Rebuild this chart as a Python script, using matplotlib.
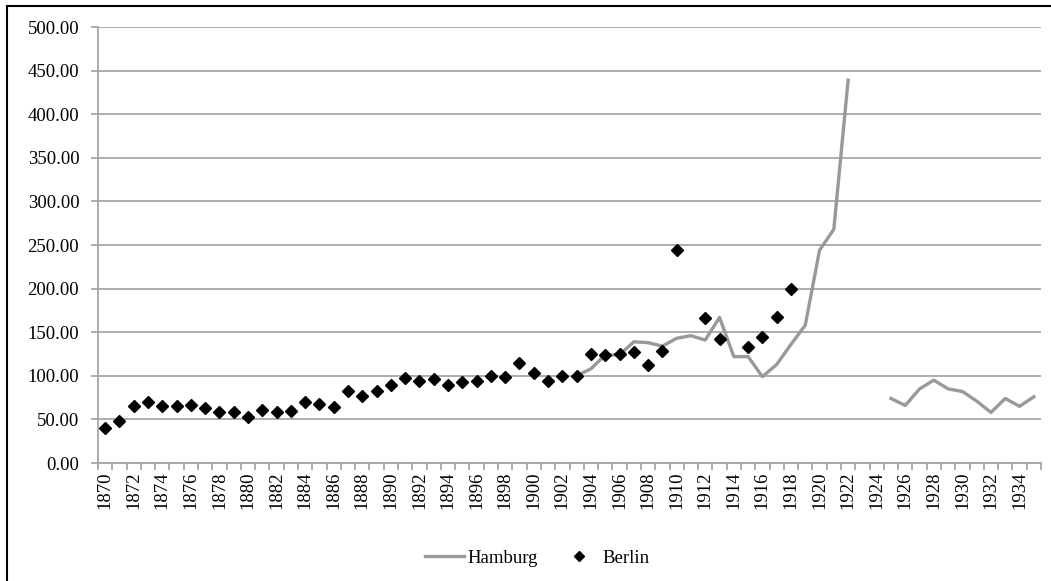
import matplotlib
matplotlib.use("Agg")
import matplotlib.pyplot as plt
import numpy as np
from matplotlib.patches import Rectangle
from matplotlib.lines import Line2D

years = list(range(1870, 1936))

berlin_years = list(range(1870, 1914)) + [1915, 1916, 1917, 1918]
berlin_values = [40, 48, 65, 70.5, 65, 65, 67, 63, 58, 58,
                 53, 61, 59, 60, 70, 68, 64, 83, 77, 82,
                 89, 97, 94, 96, 89, 93, 94, 100, 99, 115,
                 103, 94, 100, 100, 125, 124, 125, 127, 112, 129,
                 244, None, 166, 142,
                 133, 145, 167, 200]

hamburg_years = list(range(1903, 1936))
hamburg_values = [100, 108, 124, 124, 139, 138, 134,
                  143, 146, 141, 167, 122, 122, 99, 113, 136, 158,
                  244, 268, 439, None, None,
                  74, 66, 85, 95, 85, 82, 71, 58, 74, 65, 76]

tick_labels = [str(y) for y in range(1870, 1936, 2)]

bx = [y for y, v in zip(berlin_years, berlin_values) if v is not None]
bv = [v for v in berlin_values if v is not None]
hv = np.array([np.nan if v is None else v for v in hamburg_values], dtype=float)

plt.rcParams['font.family'] = ['Liberation Serif', 'DejaVu Serif']
FS = 13.5

fig = plt.figure(figsize=(10.51, 5.81), dpi=100)
ax = fig.add_axes([98/1051, 1-463/581, (1041-98)/1051, (463-27)/581])

grid_c = '#a6a6a6'
ax.set_xlim(1869.5, 1935.5)
ax.set_ylim(0, 500)
ax.set_yticks(np.arange(0, 501, 50))
ax.set_yticklabels([f"{v:.2f}" for v in np.arange(0, 501, 50)], fontsize=FS)
ax.yaxis.grid(True, color=grid_c, linewidth=1.3)
ax.set_axisbelow(True)

ax.plot(hamburg_years, hv, color='#999999', linewidth=2.4, zorder=3, label='Hamburg')
ax.plot(bx, bv, linestyle='none', marker='D', markersize=6.3, color='black', zorder=4, label='Berlin')

ax.set_xticks(range(1870, 1936, 2))
ax.set_xticklabels(tick_labels, rotation=90, fontsize=FS)
ax.tick_params(axis='x', length=0, pad=6)
ax.set_xticks(np.arange(1869.5, 1936, 1), minor=True)
ax.tick_params(axis='x', which='minor', length=5, color=grid_c, width=1.3)
ax.tick_params(axis='y', length=5, color=grid_c, width=1.3, pad=8.5)

for s in ['top', 'right']:
    ax.spines[s].set_visible(False)
for s in ['left', 'bottom']:
    ax.spines[s].set_color(grid_c)
    ax.spines[s].set_linewidth(1.3)

handles = [Line2D([], [], color='#999999', linewidth=2.4),
           Line2D([], [], linestyle='none', marker='D', markersize=5, color='black')]
fig.legend(handles, ['Hamburg', 'Berlin'], loc='center', bbox_to_anchor=(537/1051, 1-558/581),
           ncol=2, frameon=False, fontsize=FS, handlelength=2.1, handletextpad=0.2,
           columnspacing=1.1, borderpad=0)

fig.patches.append(Rectangle((7/1051, -0.1), 1.2, 1 - 6/581 + 0.1, transform=fig.transFigure,
                             fill=False, edgecolor='black', linewidth=1.5))

fig.savefig('out.png', dpi=100)
